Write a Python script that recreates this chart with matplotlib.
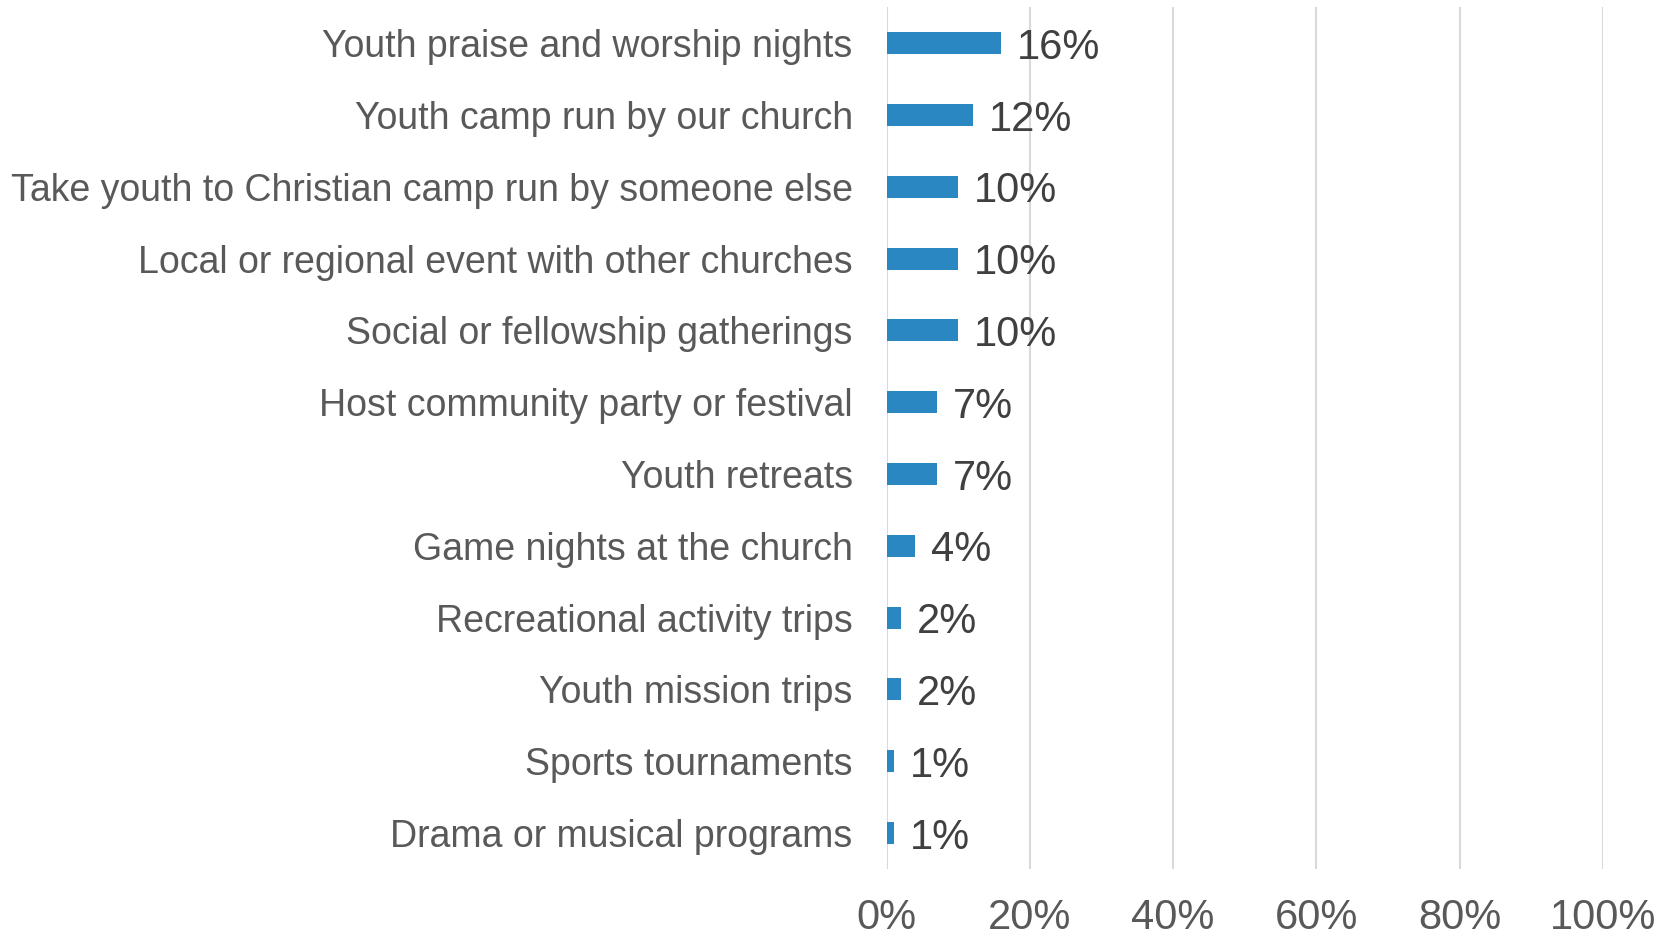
import matplotlib
matplotlib.use("Agg")
import matplotlib.pyplot as plt
from matplotlib.ticker import FuncFormatter

categories = [
    "Youth praise and worship nights",
    "Youth camp run by our church",
    "Take youth to Christian camp run by someone else",
    "Local or regional event with other churches",
    "Social or fellowship gatherings",
    "Host community party or festival",
    "Youth retreats",
    "Game nights at the church",
    "Recreational activity trips",
    "Youth mission trips",
    "Sports tournaments",
    "Drama or musical programs",
]
values = [16, 12, 10, 10, 10, 7, 7, 4, 2, 2, 1, 1]
xticks = [0, 20, 40, 60, 80, 100]

plt.rcParams['font.family'] = ['Liberation Sans', 'DejaVu Sans']

fig = plt.figure(figsize=(16.73, 9.38), dpi=100)
ax = fig.add_axes([0.530, 0.0736, 0.428, 0.9186])

pos = list(range(len(categories)))
ax.barh(pos, values, height=0.306, color="#2A87C2", zorder=3)
for p, v in zip(pos, values):
    ax.annotate(f"{v}%", xy=(v, p), xytext=(11.5, 0), textcoords="offset points",
                va="center_baseline", ha="left", fontsize=30, color="#404040")

ax.set_ylim(len(categories) - 0.5, -0.5)
ax.set_xlim(0, 100)
ax.set_yticks(pos)
ax.set_yticklabels(categories, fontsize=27, color="#595959")
ax.set_xticks(xticks)
ax.xaxis.set_major_formatter(FuncFormatter(lambda x, _: f"{int(x)}%"))
for lab in ax.get_xticklabels():
    lab.set_fontsize(30)
    lab.set_color("#595959")
ax.tick_params(axis="y", length=0, pad=24.5)
ax.tick_params(axis="x", length=0, pad=21)
ax.grid(axis="x", color="#D9D9D9", linewidth=1.5, zorder=0)
for s in ax.spines.values():
    s.set_visible(False)

fig.savefig("out.png", dpi=100)
